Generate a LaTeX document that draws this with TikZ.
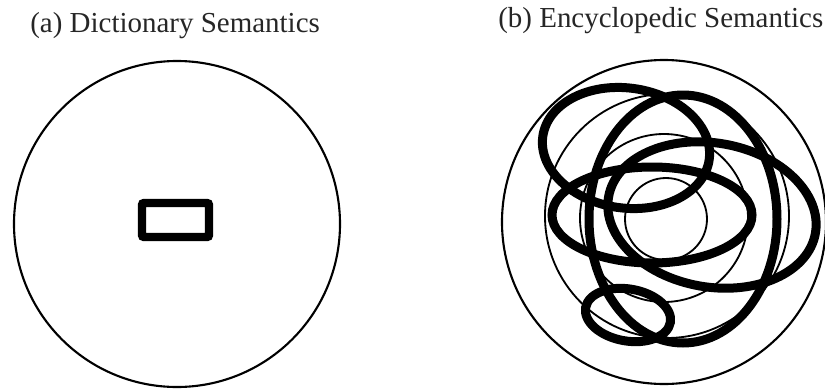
\documentclass[tikz,border=0pt]{standalone}
\usepackage{fontspec}
\setmainfont{Liberation Serif}
\usepackage{tikz}
\usetikzlibrary{positioning}
\tikzset{
  title/.style={
    anchor=base west, inner sep=0pt, text=black!85,
    font=\fontsize{20.6}{24}\selectfont
  },
  ring/.style={draw=black, line width=1.5pt},
  thinring/.style={draw=black, line width=1.3pt},
  scribble/.style={draw=black, line width=6.4pt},
  wordbox/.style={draw=black, line width=6pt, rounded corners=1.5pt}
}

\begin{document}
\begin{tikzpicture}[x=0.025cm, y=-0.025cm]
  \useasboundingbox (0,0) rectangle (825,389);

  % (a) dictionary view
  \node[title] (titleA) at (30,32) {(a) Dictionary Semantics};
  \coordinate (dictC) at (177,224);
  \draw[ring] (dictC) circle [radius=163];
  \draw[wordbox] (142,203) rectangle (209,237);

  % (b) encyclopedic view
  \node[title] (titleB) at (498,27) {(b) Encyclopedic Semantics};
  \coordinate (encC) at (664,222);
  \draw[ring] (encC) circle [radius=162];
  \draw[thinring] (666,219) circle [radius=41];
  \draw[thinring] (664,218) circle [radius=84];
  \draw[thinring] (667,216) circle [radius=122];

  % thick loops
  \draw[scribble, rotate around={-8:(626,148)}] (626,148) ellipse [x radius=84, y radius=60];
  \draw[scribble] (683,219) ellipse [x radius=94, y radius=124];
  \draw[scribble] (652,215) ellipse [x radius=100, y radius=48];
  \draw[scribble, rotate around={-10:(712,215)}] (712,215) ellipse [x radius=105, y radius=72];
  \draw[scribble, rotate around={-10:(628,315)}] (628,315) ellipse [x radius=43, y radius=26];
\end{tikzpicture}
\end{document}
